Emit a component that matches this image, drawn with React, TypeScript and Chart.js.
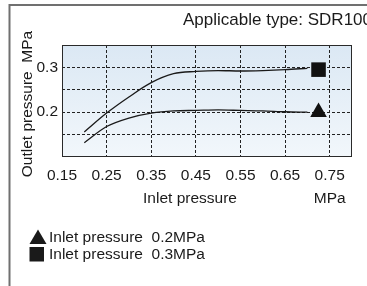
import React, { useEffect, useRef } from 'react';
import { Chart, registerables } from 'chart.js';

Chart.register(...registerables);

// ---- data ----
const inletPressure = [0.2, 0.25, 0.3, 0.35, 0.4, 0.45, 0.5, 0.55, 0.6, 0.65, 0.7];
const outletAt02 = [0.132, 0.168, 0.187, 0.198, 0.203, 0.204, 0.205, 0.204, 0.203, 0.201, 0.2];
const outletAt03 = [0.156, 0.198, 0.234, 0.266, 0.286, 0.291, 0.293, 0.292, 0.293, 0.295, 0.298];

const markerX = [0.725, 0.725];
const markerY = [0.2, 0.295];
const legendLabels = ['Inlet pressure  0.2MPa', 'Inlet pressure  0.3MPa'];

const xTicks = [0.15, 0.25, 0.35, 0.45, 0.55, 0.65, 0.75];
const xTickLabels = ['0.15', '0.25', '0.35', '0.45', '0.55', '0.65', '0.75'];
const yTicks = [0.15, 0.2, 0.25, 0.3];
const yTickLabels = ['', '0.2', '', '0.3'];

const titleText = 'Applicable type: SDR100';
const xTitle = 'Inlet pressure';
const xUnit = 'MPa';
const yTitle = 'Outlet pressure  MPa';

const FONT = '"Liberation Sans", Arial, sans-serif';
const INK = '#1a1a1a';

const decor = {
  id: 'decor',
  beforeDraw(chart: any) {
    const { ctx, chartArea: a } = chart;
    ctx.save();
    ctx.fillStyle = '#ffffff';
    ctx.fillRect(0, 0, chart.width, chart.height);
    // outer frame (left + top)
    ctx.strokeStyle = '#707070';
    ctx.lineWidth = 2;
    ctx.beginPath();
    ctx.moveTo(9.5, chart.height);
    ctx.lineTo(9.5, 5);
    ctx.lineTo(chart.width, 5);
    ctx.stroke();
    // plot background
    const g = ctx.createLinearGradient(0, a.top, 0, a.bottom);
    g.addColorStop(0, '#dbe8f4');
    g.addColorStop(1, '#f2f7fb');
    ctx.fillStyle = g;
    ctx.fillRect(a.left, a.top, a.right - a.left, a.bottom - a.top);
    ctx.restore();
  },
  afterDraw(chart: any) {
    const { ctx, chartArea: a } = chart;
    const xs = chart.scales.x;
    ctx.save();
    // plot border
    ctx.strokeStyle = '#2a2a2a';
    ctx.lineWidth = 1;
    ctx.strokeRect(a.left + 0.5, a.top + 0.5, a.right - a.left - 1, a.bottom - a.top - 1);

    ctx.fillStyle = INK;
    // title
    ctx.font = `17px ${FONT}`;
    ctx.textAlign = 'left';
    ctx.textBaseline = 'alphabetic';
    ctx.fillText(titleText, 183, 25);

    // x titles
    ctx.font = `15.5px ${FONT}`;
    ctx.textAlign = 'center';
    ctx.textBaseline = 'middle';
    ctx.fillText(xTitle, 190, 199);
    ctx.fillText(xUnit, xs.getPixelForValue(0.75), 199);

    // y title
    ctx.save();
    ctx.translate(28, 104);
    ctx.rotate(-Math.PI / 2);
    ctx.fillText(yTitle, 0, 0);
    ctx.restore();

    // legend
    const rows = [237, 254];
    ctx.textAlign = 'left';
    ctx.textBaseline = 'middle';
    ctx.beginPath();
    ctx.moveTo(38, rows[0] - 7.5);
    ctx.lineTo(46.5, rows[0] + 7);
    ctx.lineTo(29.5, rows[0] + 7);
    ctx.closePath();
    ctx.fill();
    ctx.fillRect(29.5, rows[1] - 7, 14.5, 14.5);
    ctx.fillText(legendLabels[0], 49, rows[0] + 0.5);
    ctx.fillText(legendLabels[1], 49, rows[1] + 0.5);
    ctx.restore();
  },
};

export default function App() {
  const ref = useRef<HTMLCanvasElement | null>(null);
  useEffect(() => {
    if (!ref.current) return;
    const chart = new Chart(ref.current, {
      type: 'scatter',
      data: {
        datasets: [
          {
            label: legendLabels[0],
            data: inletPressure.map((x, i) => ({ x, y: outletAt02[i] })),
            showLine: true,
            borderColor: INK,
            borderWidth: 1.3,
            pointRadius: 0,
            cubicInterpolationMode: 'monotone',
          },
          {
            label: legendLabels[1],
            data: inletPressure.map((x, i) => ({ x, y: outletAt03[i] })),
            showLine: true,
            borderColor: INK,
            borderWidth: 1.3,
            pointRadius: 0,
            cubicInterpolationMode: 'monotone',
          },
          {
            label: 'marker02',
            data: [{ x: markerX[0], y: markerY[0] }],
            pointStyle: 'triangle',
            pointRadius: 9.6,
            backgroundColor: '#111',
            borderColor: '#111',
            borderWidth: 0,
          },
          {
            label: 'marker03',
            data: [{ x: markerX[1], y: markerY[1] }],
            pointStyle: 'rect',
            pointRadius: 10.3,
            backgroundColor: '#111',
            borderColor: '#111',
            borderWidth: 0,
          },
        ],
      },
      options: {
        responsive: false,
        animation: false,
        devicePixelRatio: 1,
        layout: { padding: { left: 0, top: 45, right: 15, bottom: 99 } },
        plugins: { legend: { display: false }, tooltip: { enabled: false } },
        scales: {
          x: {
            type: 'linear',
            min: 0.15,
            max: 0.8,
            afterBuildTicks: (s: any) => {
              s.ticks = xTicks.map((v) => ({ value: v }));
            },
            afterFit: (s: any) => {
              s.height = 30;
            },
            ticks: {
              autoSkip: false,
              maxRotation: 0,
              padding: 9,
              color: INK,
              font: { family: FONT, size: 15.5 },
              callback: (v: any) => {
                const i = xTicks.findIndex((t) => Math.abs(t - v) < 1e-6);
                return i >= 0 ? xTickLabels[i] : '';
              },
            },
            grid: {
              drawTicks: false,
              color: (c: any) => (c.tick && Math.abs(c.tick.value - 0.15) < 1e-6 ? 'rgba(0,0,0,0)' : '#222'),
              lineWidth: 1,
            },
            border: { display: false, dash: [3, 2] },
          },
          y: {
            type: 'linear',
            min: 0.1,
            max: 0.35,
            afterBuildTicks: (s: any) => {
              s.ticks = yTicks.map((v) => ({ value: v }));
            },
            afterFit: (s: any) => {
              s.width = 62;
            },
            ticks: {
              autoSkip: false,
              padding: 4,
              color: INK,
              font: { family: FONT, size: 15.5 },
              callback: (v: any) => {
                const i = yTicks.findIndex((t) => Math.abs(t - v) < 1e-6);
                return i >= 0 ? yTickLabels[i] : '';
              },
            },
            grid: {
              drawTicks: false,
              color: '#222',
              lineWidth: 1,
            },
            border: { display: false, dash: [3, 2] },
          },
        },
      },
      plugins: [decor],
    } as any);
    return () => chart.destroy();
  }, []);
  return (
    <div style={{ position: 'absolute', left: 0, top: 0, width: 367, height: 286 }}>
      <canvas ref={ref} width={367} height={286} style={{ width: 367, height: 286, display: 'block' }} />
    </div>
  );
}
